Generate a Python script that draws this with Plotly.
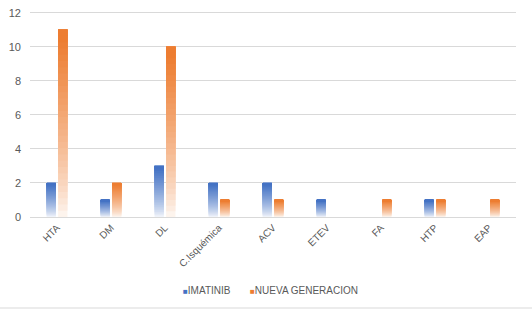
import plotly.graph_objects as go

categories = ["HTA", "DM", "DL", "C.Isquémica", "ACV", "ETEV", "FA", "HTP", "EAP"]
imatinib = [2, 1, 3, 2, 2, 1, 0, 1, 0]
nueva = [11, 2, 10, 1, 1, 0, 1, 1, 1]
y_ticks = [0, 2, 4, 6, 8, 10, 12]
series = [("IMATINIB", imatinib, (68, 114, 196)), ("NUEVA GENERACION", nueva, (237, 125, 49))]

W, H = 532, 311
L, T = 30, 11
pw, ph = 486, 206
R, B = W - L - pw, H - T - ph
Y0 = T + ph  # y of the zero line

N = 30
fig = go.Figure()


def mix(c, t):
    return "rgb(%d,%d,%d)" % tuple(round(255 + (ci - 255) * t) for ci in c)


for name, vals, col in series:
    for k in range(N):
        f = (k + 0.5) / N
        t = min(1.0, 0.04 + f ** 0.75)
        fig.add_trace(go.Bar(
            x=categories,
            y=[v * (N - k) / N for v in vals],
            base=[v * k / N for v in vals],
            offsetgroup=name,
            marker=dict(color=mix(col, t), line=dict(width=0)),
            showlegend=False,
            hoverinfo="skip",
        ))

# legend drawn as text items (square glyph + label)
legend_items = [(name, col, xc) for (name, _, col), xc in zip(series, [181, 248])]
annotations = [
    dict(text="<span style='color:%s;font-size:8px'>■</span>%s" % (mix(col, 1.0), name),
         xref="paper", yref="paper", x=(xc - L) / pw, y=(Y0 - 290) / ph,
         xanchor="left", yanchor="middle", showarrow=False,
         font=dict(size=10, color="#595959"))
    for name, col, xc in legend_items
]

fig.update_layout(
    width=W, height=H,
    margin=dict(l=L, r=R, t=T, b=B, autoexpand=False),
    paper_bgcolor="white", plot_bgcolor="white",
    barmode="group", bargap=0.57, bargroupgap=0.2,
    font=dict(family="Liberation Sans, Arial, sans-serif", size=10, color="#595959"),
    showlegend=False,
    xaxis=dict(tickangle=-45, showline=True, linecolor="#d9d9d9", linewidth=1, automargin=False,
               ticks="", showgrid=False, tickfont=dict(size=10, color="#595959")),
    yaxis=dict(range=[0, 12.1], tickmode="array", tickvals=y_ticks, showgrid=True,
               gridcolor="#d9d9d9", gridwidth=1, automargin=False,
               zeroline=False, ticks="", tickfont=dict(size=11, color="#595959"),
               ticklabelstandoff=8),
    annotations=annotations,
    shapes=[dict(type="line", xref="paper", yref="paper",
                 x0=-L / pw, x1=(W - L) / pw, y0=(Y0 - 308) / ph, y1=(Y0 - 308) / ph,
                 line=dict(color="#d9d9d9", width=1))],
)

fig.write_html("out.html", config={"displayModeBar": False},
               post_script="document.body.style.margin='0';")
